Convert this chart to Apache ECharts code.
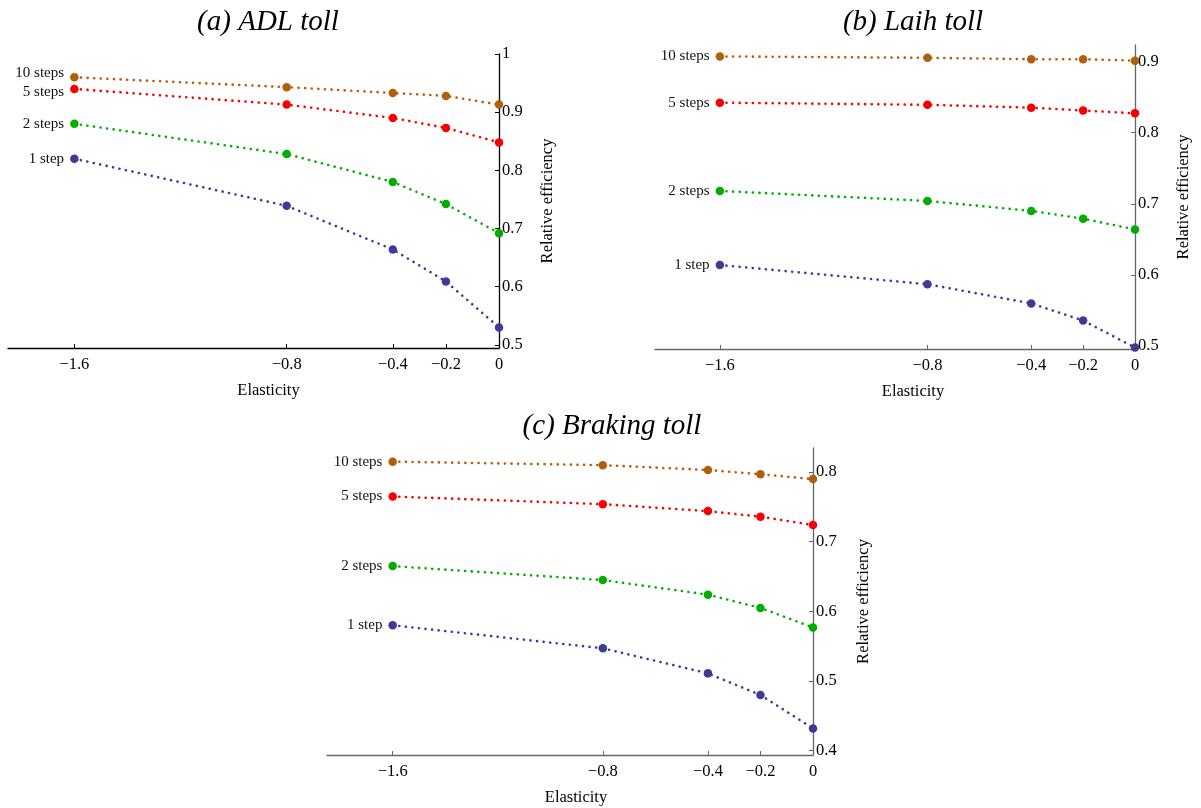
<!DOCTYPE html>
<html>
<head>
<meta charset="utf-8">
<title>Relative efficiency vs elasticity</title>
<script src="https://cdn.jsdelivr.net/npm/echarts@6/dist/echarts.min.js"></script>
<style>
  html, body { margin: 0; padding: 0; background: #fff; }
  #chart { width: 1201px; height: 808px; }
</style>
</head>
<body>
<div id="chart"></div>
<script>
// Elasticity values on the x axis
const elasticity = [-1.6, -0.8, -0.4, -0.2, 0];
const xTicks = [-1.6, -0.8, -0.4, -0.2, 0];

// Step counts, one series per count
const stepNames = ['10 steps', '5 steps', '2 steps', '1 step'];
const stepColors = ['#b25f0c', '#f80000', '#00ad00', '#3c3c98'];

// (a) ADL toll
const adl10 = [0.960, 0.943, 0.933, 0.928, 0.913];
const adl5  = [0.940, 0.913, 0.890, 0.873, 0.848];
const adl2  = [0.880, 0.828, 0.780, 0.742, 0.692];
const adl1  = [0.820, 0.739, 0.664, 0.609, 0.530];
const adlTicks = [0.5, 0.6, 0.7, 0.8, 0.9, 1.0];

// (b) Laih toll
const laih10 = [0.907, 0.905, 0.903, 0.903, 0.901];
const laih5  = [0.842, 0.839, 0.835, 0.831, 0.827];
const laih2  = [0.718, 0.704, 0.690, 0.679, 0.664];
const laih1  = [0.614, 0.587, 0.560, 0.536, 0.498];
const laihTicks = [0.5, 0.6, 0.7, 0.8, 0.9];

// (c) Braking toll
const brk10 = [0.815, 0.810, 0.803, 0.797, 0.790];
const brk5  = [0.765, 0.754, 0.744, 0.736, 0.724];
const brk2  = [0.665, 0.645, 0.624, 0.605, 0.577];
const brk1  = [0.580, 0.547, 0.511, 0.480, 0.432];
const brkTicks = [0.4, 0.5, 0.6, 0.7, 0.8];

const SERIF = '"Liberation Serif", "DejaVu Serif", serif';

const panels = [
  { title: '(a) ADL toll', titleX: 263, titleY: 3,
    grid: { left: 8, right: 702, top: 54, bottom: 460 },
    yMin: 0.4946, yMax: 1.0, yTicks: adlTicks, axisColor: '#000',
    xNamePad: 30, yNameGap: 40, labelNudge: [-4, 3, 0, 0],
    series: [adl10, adl5, adl2, adl1] },
  { title: '(b) Laih toll', titleX: 908, titleY: 3,
    grid: { left: 655, right: 66, top: 45, bottom: 459 },
    yMin: 0.496, yMax: 0.923, yTicks: laihTicks, axisColor: '#666',
    xNamePad: 36, yNameGap: 40, labelNudge: [0, 0, 0, 0],
    series: [laih10, laih5, laih2, laih1] },
  { title: '(c) Braking toll', titleX: 607, titleY: 407,
    grid: { left: 327, right: 388, top: 448, bottom: 53 },
    yMin: 0.3938, yMax: 0.8346, yTicks: brkTicks, axisColor: '#666',
    xNamePad: 12, yNameGap: 42, labelNudge: [0, 0, 0, 0],
    series: [brk10, brk5, brk2, brk1] }
];

const fmtX = v => (v === 0 ? '0' : String(v).replace('-', '\u2212'));
const fmtY = v => String(Math.round(v * 10) / 10);

const option = {
  backgroundColor: '#fff',
  animation: false,
  title: [],
  grid: [],
  xAxis: [],
  yAxis: [],
  series: []
};

panels.forEach((p, i) => {
  option.title.push({
    text: p.title,
    left: p.titleX, top: p.titleY,
    textAlign: 'center',
    textStyle: { fontFamily: SERIF, fontStyle: 'italic', fontWeight: 'normal', fontSize: 29, color: '#000' }
  });
  option.grid.push(Object.assign({ containLabel: false }, p.grid));
  option.xAxis.push({
    type: 'value', gridIndex: i,
    min: -1.85, max: 0,
    name: 'Elasticity', nameLocation: 'middle', nameGap: 34,
    nameTextStyle: { fontFamily: SERIF, fontSize: 16.5, color: '#000', padding: [0, 0, 0, p.xNamePad] },
    axisLine: { show: true, onZero: false, lineStyle: { color: p.axisColor, width: 1.3 } },
    axisTick: { show: true, inside: true, length: 4, customValues: xTicks, lineStyle: { color: p.axisColor } },
    axisLabel: { customValues: xTicks, formatter: fmtX, fontFamily: SERIF, fontSize: 16.5, color: '#000', margin: 8 },
    splitLine: { show: false }
  });
  option.yAxis.push({
    type: 'value', gridIndex: i, position: 'right',
    min: p.yMin, max: p.yMax,
    name: 'Relative efficiency', nameLocation: 'middle', nameRotate: 90, nameGap: p.yNameGap,
    nameTextStyle: { fontFamily: SERIF, fontSize: 16.5, color: '#000' },
    axisLine: { show: true, onZero: false, lineStyle: { color: p.axisColor, width: 1.3 } },
    axisTick: { show: true, inside: true, length: 4, customValues: p.yTicks, lineStyle: { color: p.axisColor } },
    axisLabel: { customValues: p.yTicks, formatter: fmtY, fontFamily: SERIF, fontSize: 16.5, color: '#000', margin: 3 },
    splitLine: { show: false }
  });
  p.series.forEach((vals, k) => {
    option.series.push({
      type: 'line', name: stepNames[k],
      xAxisIndex: i, yAxisIndex: i,
      data: elasticity.map((x, j) => {
        const item = { value: [x, vals[j]] };
        if (j === 0) {
          item.label = {
            show: true, position: 'left', distance: 6,
            offset: [0, p.labelNudge[k]],
            formatter: stepNames[k],
            fontFamily: SERIF, fontSize: 15, color: '#111'
          };
        }
        return item;
      }),
      symbol: 'circle', symbolSize: 8.5,
      itemStyle: { color: stepColors[k] },
      lineStyle: { color: stepColors[k], width: 2.6, type: [0.1, 6.5], cap: 'round' },
      z: 3
    });
  });
});

const chart = echarts.init(document.getElementById('chart'), null, { renderer: 'canvas' });
chart.setOption(option);
</script>
</body>
</html>
